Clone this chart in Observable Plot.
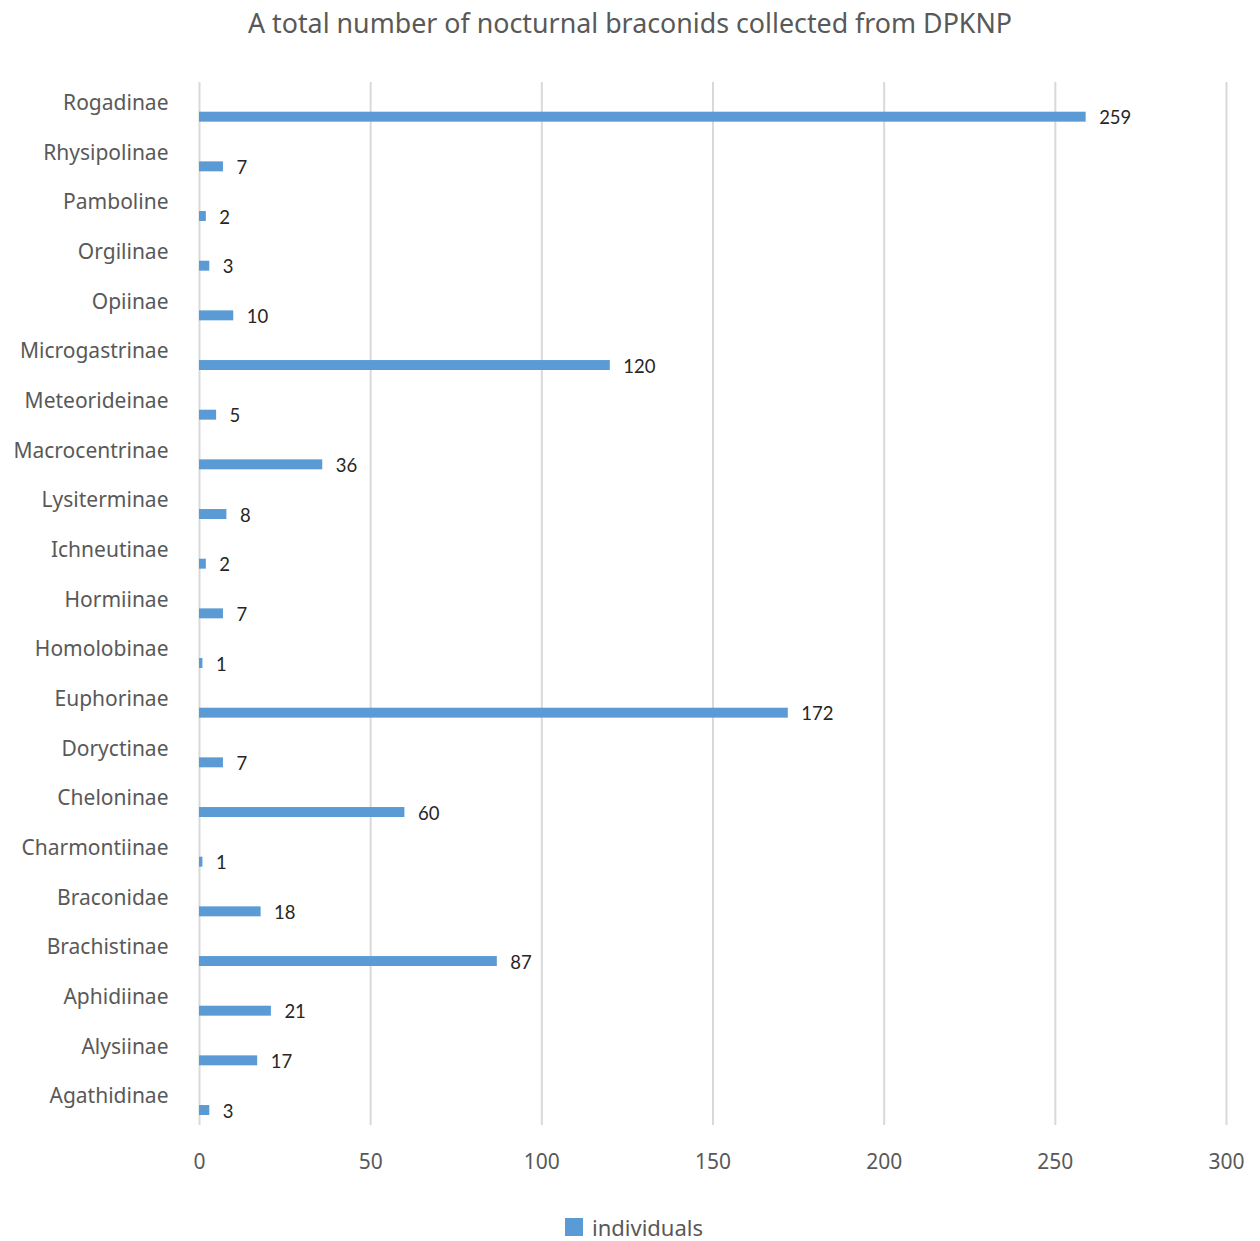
<!DOCTYPE html>
<html>
<head>
<meta charset="utf-8">
<script src="https://cdn.jsdelivr.net/npm/d3@7"></script>
<script src="https://cdn.jsdelivr.net/npm/@observablehq/plot@0.6"></script>
<style>
  html, body { margin: 0; padding: 0; background: #fff; }
  #title { height: 45px; line-height: 45px; text-align: center; font-family: "Noto Sans", sans-serif; font-size: 26.8px; color: #595959; }
  #chart svg { display: block; }
  #legend { height: 28px; padding-top: 18px; display: flex; align-items: center; justify-content: center; font-family: "Noto Sans", sans-serif; font-size: 22px; color: #595959; }
  #legend .sw { width: 18px; height: 18px; background: #5b9bd5; margin-right: 9px; margin-left: 8px; }
</style>
</head>
<body>
<div id="title">A total number of nocturnal braconids collected from DPKNP</div>
<div id="chart"></div>
<div id="legend"><span class="sw"></span><span>individuals</span></div>
<script>
const categories = ["Rogadinae","Rhysipolinae","Pamboline","Orgilinae","Opiinae","Microgastrinae","Meteorideinae","Macrocentrinae","Lysiterminae","Ichneutinae","Hormiinae","Homolobinae","Euphorinae","Doryctinae","Cheloninae","Charmontiinae","Braconidae","Brachistinae","Aphidiinae","Alysiinae","Agathidinae"];
const individuals = [259,7,2,3,10,120,5,36,8,2,7,1,172,7,60,1,18,87,21,17,3];
const xTicks = [0,50,100,150,200,250,300];
const seriesName = "individuals";

const data = categories.map((c, i) => ({subfamily: c, value: individuals[i]}));

const chart = Plot.plot({
  width: 1260,
  height: 1150,
  marginTop: 37,
  marginBottom: 70,
  marginLeft: 199,
  marginRight: 34,
  style: {fontFamily: "Noto Sans, sans-serif", background: "#fff"},
  x: {domain: [0, 300], ticks: xTicks},
  y: {domain: categories, padding: 0, round: false},
  marks: [
    Plot.gridX(xTicks, {stroke: "#d9d9d9", strokeOpacity: 1, strokeWidth: 2}),
    Plot.barX(data, {x: "value", y: "subfamily", fill: "#5b9bd5", insetTop: 29.7, insetBottom: 10}),
    Plot.text(data, {x: "value", y: "subfamily", text: d => String(d.value), textAnchor: "start", dx: 13, dy: 11, fontSize: 18.5, fill: "#262626", fontFamily: "Lato, sans-serif"}),
    Plot.axisX(xTicks, {tickSize: 0, tickPadding: 29, fontSize: 21, fill: "#595959", label: null}),
    Plot.axisY({tickSize: 0, tickPadding: 31, fontSize: 21, fill: "#595959", dy: -4, label: null})
  ]
});
document.getElementById("chart").appendChild(chart);
</script>
</body>
</html>
